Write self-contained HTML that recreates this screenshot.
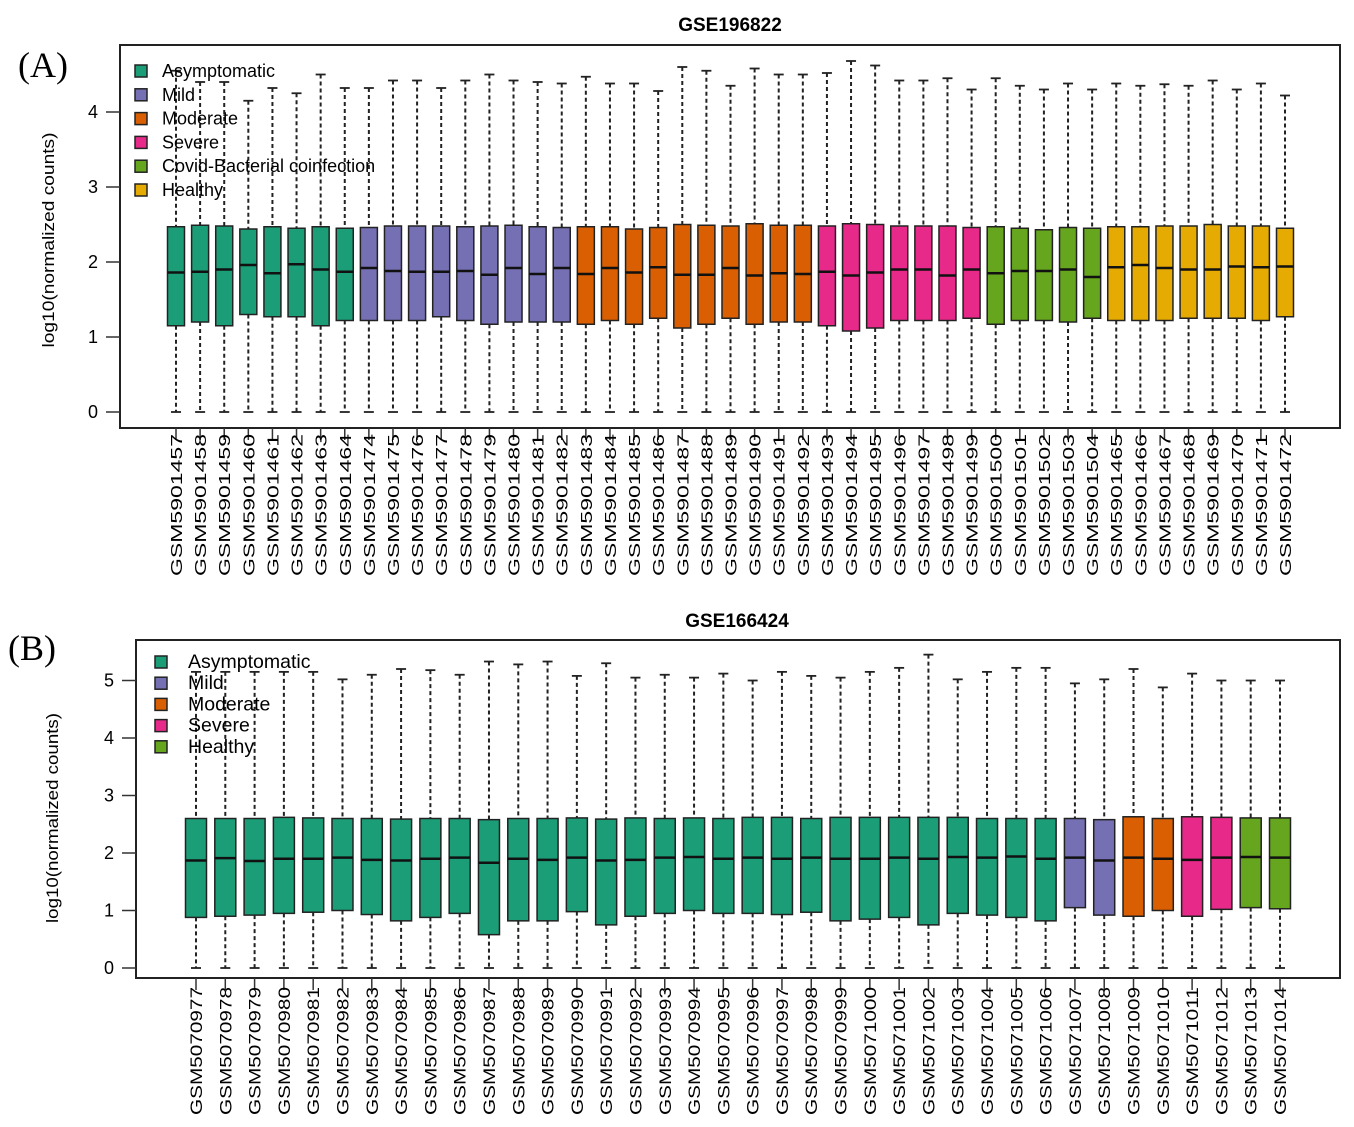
<!DOCTYPE html>
<html><head><meta charset="utf-8"><style>
body{margin:0;background:#fff;}
svg{display:block;font-family:"Liberation Sans",Arial,sans-serif;}
</style></head><body>
<svg id="chart" width="1354" height="1127" viewBox="0 0 1354 1127"></svg>
<script>
// Panel A data
const aLabels=["GSM5901457","GSM5901458","GSM5901459","GSM5901460","GSM5901461","GSM5901462","GSM5901463","GSM5901464","GSM5901474","GSM5901475","GSM5901476","GSM5901477","GSM5901478","GSM5901479","GSM5901480","GSM5901481","GSM5901482","GSM5901483","GSM5901484","GSM5901485","GSM5901486","GSM5901487","GSM5901488","GSM5901489","GSM5901490","GSM5901491","GSM5901492","GSM5901493","GSM5901494","GSM5901495","GSM5901496","GSM5901497","GSM5901498","GSM5901499","GSM5901500","GSM5901501","GSM5901502","GSM5901503","GSM5901504","GSM5901465","GSM5901466","GSM5901467","GSM5901468","GSM5901469","GSM5901470","GSM5901471","GSM5901472"];
const aGroups=[0,0,0,0,0,0,0,0,1,1,1,1,1,1,1,1,1,2,2,2,2,2,2,2,2,2,2,3,3,3,3,3,3,3,4,4,4,4,4,5,5,5,5,5,5,5,5];
const aTop=[4.55,4.4,4.4,4.15,4.32,4.25,4.5,4.32,4.32,4.42,4.42,4.32,4.42,4.5,4.42,4.4,4.38,4.47,4.38,4.38,4.28,4.6,4.55,4.35,4.58,4.5,4.5,4.52,4.68,4.62,4.42,4.42,4.45,4.3,4.45,4.35,4.3,4.38,4.3,4.38,4.35,4.37,4.35,4.42,4.3,4.38,4.22];
const aQ1=[1.15,1.2,1.15,1.3,1.27,1.27,1.15,1.22,1.22,1.22,1.22,1.27,1.22,1.17,1.2,1.2,1.2,1.17,1.22,1.17,1.25,1.12,1.17,1.25,1.17,1.2,1.2,1.15,1.08,1.12,1.22,1.22,1.22,1.25,1.17,1.22,1.22,1.2,1.25,1.22,1.22,1.22,1.25,1.25,1.25,1.22,1.27];
const aMed=[1.86,1.87,1.9,1.96,1.85,1.97,1.9,1.87,1.92,1.88,1.87,1.87,1.88,1.83,1.92,1.84,1.92,1.84,1.92,1.86,1.93,1.83,1.83,1.92,1.82,1.85,1.84,1.87,1.82,1.86,1.9,1.9,1.82,1.9,1.85,1.88,1.88,1.9,1.8,1.93,1.96,1.92,1.9,1.9,1.94,1.93,1.94];
const aQ3=[2.47,2.49,2.48,2.44,2.47,2.45,2.47,2.45,2.46,2.48,2.48,2.48,2.47,2.48,2.49,2.47,2.46,2.47,2.47,2.44,2.46,2.5,2.49,2.48,2.51,2.49,2.49,2.48,2.51,2.5,2.48,2.48,2.48,2.46,2.47,2.45,2.43,2.46,2.45,2.47,2.47,2.48,2.48,2.5,2.48,2.48,2.45];
const aLegend=["Asymptomatic","Mild","Moderate","Severe","Covid-Bacterial coinfection","Healthy"];
const aTicks=[0,1,2,3,4];
// Panel B data
const bLabels=["GSM5070977","GSM5070978","GSM5070979","GSM5070980","GSM5070981","GSM5070982","GSM5070983","GSM5070984","GSM5070985","GSM5070986","GSM5070987","GSM5070988","GSM5070989","GSM5070990","GSM5070991","GSM5070992","GSM5070993","GSM5070994","GSM5070995","GSM5070996","GSM5070997","GSM5070998","GSM5070999","GSM5071000","GSM5071001","GSM5071002","GSM5071003","GSM5071004","GSM5071005","GSM5071006","GSM5071007","GSM5071008","GSM5071009","GSM5071010","GSM5071011","GSM5071012","GSM5071013","GSM5071014"];
const bGroups=[0,0,0,0,0,0,0,0,0,0,0,0,0,0,0,0,0,0,0,0,0,0,0,0,0,0,0,0,0,0,1,1,2,2,3,3,4,4];
const bTop=[5.15,5.15,5.15,5.15,5.15,5.02,5.1,5.2,5.18,5.1,5.33,5.28,5.33,5.08,5.3,5.05,5.1,5.05,5.12,5.0,5.15,5.08,5.05,5.15,5.22,5.45,5.02,5.15,5.22,5.22,4.95,5.02,5.2,4.88,5.12,5.0,5.0,5.0];
const bQ1=[0.88,0.9,0.92,0.95,0.97,1.0,0.93,0.82,0.88,0.95,0.58,0.82,0.82,0.98,0.75,0.9,0.95,1.0,0.95,0.95,0.93,0.97,0.82,0.85,0.88,0.75,0.95,0.92,0.88,0.82,1.05,0.92,0.9,1.0,0.9,1.02,1.05,1.03];
const bMed=[1.87,1.91,1.86,1.9,1.9,1.92,1.88,1.87,1.9,1.92,1.83,1.9,1.88,1.92,1.87,1.88,1.92,1.93,1.9,1.92,1.9,1.92,1.9,1.9,1.92,1.9,1.93,1.92,1.94,1.9,1.92,1.87,1.92,1.9,1.88,1.92,1.93,1.92];
const bQ3=[2.6,2.6,2.6,2.62,2.61,2.6,2.6,2.59,2.6,2.6,2.58,2.6,2.6,2.61,2.59,2.61,2.6,2.61,2.6,2.62,2.62,2.6,2.62,2.62,2.62,2.62,2.62,2.6,2.6,2.6,2.6,2.58,2.63,2.6,2.63,2.62,2.61,2.61];
const bLegend=["Asymptomatic","Mild","Moderate","Severe","Healthy"];
const bTicks=[0,1,2,3,4,5];
const aColors=["#1b9e77","#7570b3","#d95f02","#e7298a","#66a61e","#e6ab02"];
const bColors=["#1b9e77","#7570b3","#d95f02","#e7298a","#66a61e"];

const NS="http://www.w3.org/2000/svg";
const svg=document.getElementById('chart');
function mk(tag,attrs,parent,text){const e=document.createElementNS(NS,tag);for(const k in attrs)e.setAttribute(k,attrs[k]);if(text!==undefined)e.textContent=text;(parent||svg).appendChild(e);return e;}

function panel(cfg){
  const g=mk('g',{});
  
  
  const y=v=>cfg.y0-v*cfg.ppu;
  const x=i=>cfg.x0+i*cfg.step;
  const pl=mk('text',{x:cfg.panelX,y:cfg.panelY,'font-family':'"Liberation Serif",serif','font-size':36},g,cfg.panelLabel);
  
  
  const t=mk('text',{x:cfg.titleX,y:cfg.titleY,'text-anchor':'middle','font-size':19,'font-weight':'bold'},g,cfg.title);
  
  
  const fr=mk('rect',{x:cfg.fx,y:cfg.fy,width:cfg.fw,height:cfg.fh,fill:'none',stroke:'#222','stroke-width':2},g);
  
  
  cfg.ticks.forEach(v=>{
    mk('line',{x1:cfg.fx-14,x2:cfg.fx,y1:y(v),y2:y(v),stroke:'#333','stroke-width':1.5},g);
    const tl=mk('text',{x:cfg.fx-22,y:y(v)+6,'text-anchor':'end','font-size':18},g,String(v));
    
    
  });
  const yt=mk('text',{transform:`translate(${cfg.ytX},${cfg.ytY}) rotate(-90)`,'text-anchor':'middle','font-size':17,textLength:cfg.ytLen,lengthAdjust:'spacingAndGlyphs'},g,'log10(normalized counts)');
  
  
  const hw=cfg.bw/2;
  cfg.labels.forEach((lab,i)=>{
    const cx=x(i),col=cfg.colors[cfg.groups[i]];
    const bg=mk('g',{},g);
    
    
    mk('line',{x1:cx,x2:cx,y1:y(cfg.top[i]),y2:y(cfg.q3[i]),stroke:'#222','stroke-width':2,'stroke-dasharray':'4,3'},bg);
    mk('line',{x1:cx,x2:cx,y1:y(cfg.q1[i]),y2:y(0),stroke:'#222','stroke-width':2,'stroke-dasharray':'4,3'},bg);
    mk('line',{x1:cx-5,x2:cx+5,y1:y(cfg.top[i]),y2:y(cfg.top[i]),stroke:'#222','stroke-width':1.8},bg);
    mk('line',{x1:cx-5,x2:cx+5,y1:y(0),y2:y(0),stroke:'#222','stroke-width':1.8},bg);
    mk('rect',{x:cx-hw,y:y(cfg.q3[i]),width:cfg.bw,height:y(cfg.q1[i])-y(cfg.q3[i]),fill:col,stroke:'#222','stroke-width':1.5},bg);
    mk('line',{x1:cx-hw,x2:cx+hw,y1:y(cfg.med[i]),y2:y(cfg.med[i]),stroke:'#111','stroke-width':2.5},bg);
    mk('line',{x1:cx,x2:cx,y1:cfg.fy+cfg.fh,y2:cfg.fy+cfg.fh+12,stroke:'#333','stroke-width':1.5},bg);
    const xl=mk('text',{transform:`translate(${cx+6},${cfg.lblStart}) rotate(-90)`,'text-anchor':'end','font-size':cfg.lblFont,textLength:cfg.lblLen,lengthAdjust:'spacingAndGlyphs'},bg,lab);
    
    
  });
  const lg=mk('g',{},g);
  
  
  cfg.legend.forEach((name,i)=>{
    const ly=cfg.legY+i*cfg.legStep;
    const le=mk('g',{},lg);
    
    
    mk('rect',{x:cfg.legX,y:ly-6,width:12,height:12,fill:cfg.colors[i],stroke:'#222','stroke-width':1.5},le);
    mk('text',{x:cfg.legX+cfg.legTextDx,y:ly+6,'font-size':cfg.legFont},le,name);
  });
}
panel({name:'panel-a',panelLabel:'(A)',panelX:18,panelY:77,title:'GSE196822',titleX:730,titleY:31,
  fx:120,fy:45,fw:1220,fh:383,y0:412,ppu:75,x0:176,step:(1285-176)/46,bw:17,
  ticks:aTicks,labels:aLabels,groups:aGroups,top:aTop,q1:aQ1,med:aMed,q3:aQ3,colors:aColors,legend:aLegend,
  ytX:54,ytY:240,ytLen:215,lblStart:434,lblFont:16,lblLen:142,legX:135,legY:71,legStep:23.8,legFont:18,legTextDx:27});
panel({name:'panel-b',panelLabel:'(B)',panelX:8,panelY:660,title:'GSE166424',titleX:737,titleY:627,
  fx:136,fy:640,fw:1204,fh:338,y0:968,ppu:57.5,x0:196,step:(1280-196)/37,bw:21,
  ticks:bTicks,labels:bLabels,groups:bGroups,top:bTop,q1:bQ1,med:bMed,q3:bQ3,colors:bColors,legend:bLegend,
  ytX:58,ytY:818,ytLen:210,lblStart:987,lblFont:17,lblLen:128,legX:155,legY:662,legStep:21.2,legFont:19.5,legTextDx:33});
</script>
</body></html>
